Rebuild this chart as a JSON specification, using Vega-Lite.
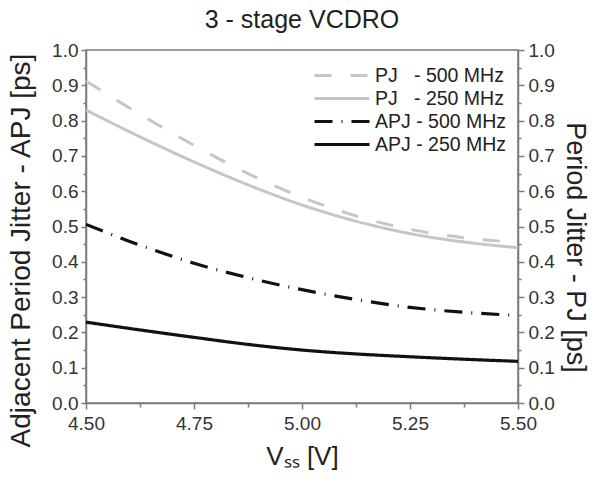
{
  "$schema": "https://vega.github.io/schema/vega-lite/v6.json",
  "width": 432,
  "height": 353,
  "autosize": "none",
  "padding": {"left": 86, "top": 50, "right": 79, "bottom": 81},
  "background": "white",
  "config": {
    "font": "Liberation Sans",
    "view": {"stroke": "#7a7a7a", "strokeWidth": 1.5},
    "axis": {"grid": false}
  },
  "title": {
    "text": "3 - stage VCDRO",
    "fontSize": 25,
    "fontWeight": "normal",
    "color": "#222222",
    "anchor": "middle",
    "frame": "group",
    "offset": 8
  },
  "data": {
    "values": [
      {"vss": 4.5, "jitter": 0.912, "series": "PJ\u00a0\u00a0\u00a0- 500 MHz"},
      {"vss": 4.625, "jitter": 0.818, "series": "PJ\u00a0\u00a0\u00a0- 500 MHz"},
      {"vss": 4.75, "jitter": 0.73, "series": "PJ\u00a0\u00a0\u00a0- 500 MHz"},
      {"vss": 4.875, "jitter": 0.65, "series": "PJ\u00a0\u00a0\u00a0- 500 MHz"},
      {"vss": 5.0, "jitter": 0.583, "series": "PJ\u00a0\u00a0\u00a0- 500 MHz"},
      {"vss": 5.125, "jitter": 0.53, "series": "PJ\u00a0\u00a0\u00a0- 500 MHz"},
      {"vss": 5.25, "jitter": 0.492, "series": "PJ\u00a0\u00a0\u00a0- 500 MHz"},
      {"vss": 5.375, "jitter": 0.468, "series": "PJ\u00a0\u00a0\u00a0- 500 MHz"},
      {"vss": 5.5, "jitter": 0.455, "series": "PJ\u00a0\u00a0\u00a0- 500 MHz"},
      {"vss": 4.5, "jitter": 0.83, "series": "PJ\u00a0\u00a0\u00a0- 250 MHz"},
      {"vss": 4.625, "jitter": 0.754, "series": "PJ\u00a0\u00a0\u00a0- 250 MHz"},
      {"vss": 4.75, "jitter": 0.683, "series": "PJ\u00a0\u00a0\u00a0- 250 MHz"},
      {"vss": 4.875, "jitter": 0.618, "series": "PJ\u00a0\u00a0\u00a0- 250 MHz"},
      {"vss": 5.0, "jitter": 0.561, "series": "PJ\u00a0\u00a0\u00a0- 250 MHz"},
      {"vss": 5.125, "jitter": 0.515, "series": "PJ\u00a0\u00a0\u00a0- 250 MHz"},
      {"vss": 5.25, "jitter": 0.48, "series": "PJ\u00a0\u00a0\u00a0- 250 MHz"},
      {"vss": 5.375, "jitter": 0.456, "series": "PJ\u00a0\u00a0\u00a0- 250 MHz"},
      {"vss": 5.5, "jitter": 0.44, "series": "PJ\u00a0\u00a0\u00a0- 250 MHz"},
      {"vss": 4.5, "jitter": 0.506, "series": "APJ - 500 MHz"},
      {"vss": 4.625, "jitter": 0.447, "series": "APJ - 500 MHz"},
      {"vss": 4.75, "jitter": 0.396, "series": "APJ - 500 MHz"},
      {"vss": 4.875, "jitter": 0.355, "series": "APJ - 500 MHz"},
      {"vss": 5.0, "jitter": 0.321, "series": "APJ - 500 MHz"},
      {"vss": 5.125, "jitter": 0.293, "series": "APJ - 500 MHz"},
      {"vss": 5.25, "jitter": 0.271, "series": "APJ - 500 MHz"},
      {"vss": 5.375, "jitter": 0.257, "series": "APJ - 500 MHz"},
      {"vss": 5.5, "jitter": 0.248, "series": "APJ - 500 MHz"},
      {"vss": 4.5, "jitter": 0.229, "series": "APJ - 250 MHz"},
      {"vss": 4.625, "jitter": 0.207, "series": "APJ - 250 MHz"},
      {"vss": 4.75, "jitter": 0.186, "series": "APJ - 250 MHz"},
      {"vss": 4.875, "jitter": 0.166, "series": "APJ - 250 MHz"},
      {"vss": 5.0, "jitter": 0.15, "series": "APJ - 250 MHz"},
      {"vss": 5.125, "jitter": 0.139, "series": "APJ - 250 MHz"},
      {"vss": 5.25, "jitter": 0.131, "series": "APJ - 250 MHz"},
      {"vss": 5.375, "jitter": 0.124, "series": "APJ - 250 MHz"},
      {"vss": 5.5, "jitter": 0.118, "series": "APJ - 250 MHz"}
    ]
  },
  "encoding": {
    "x": {
      "field": "vss",
      "type": "quantitative",
      "scale": {"domain": [4.5, 5.5], "nice": false, "zero": false},
      "axis": {
        "title": "V\u209b\u209b [V]",
        "titleFontSize": 26,
        "titleFontWeight": "normal",
        "titleColor": "#222222",
        "titlePadding": 10,
        "values": [4.5, 4.625, 4.75, 4.875, 5.0, 5.125, 5.25, 5.375, 5.5],
        "labelExpr": "abs(round(datum.value*4)-datum.value*4) < 0.001 ? format(datum.value, '.2f') : ''",
        "labelFontSize": 19,
        "labelColor": "#333333",
        "labelPadding": 5,
        "labelFlush": false,
        "domainColor": "#7a7a7a",
        "domainWidth": 1.5,
        "tickColor": "#7a7a7a",
        "tickWidth": 1.5,
        "tickSize": {"condition": {"test": "abs(round(datum.value*4)-datum.value*4) < 0.001", "value": 6}, "value": 4}
      }
    },
    "color": {
      "field": "series",
      "type": "nominal",
      "scale": {
        "domain": ["PJ\u00a0\u00a0\u00a0- 500 MHz", "PJ\u00a0\u00a0\u00a0- 250 MHz", "APJ - 500 MHz", "APJ - 250 MHz"],
        "range": ["#c9c5c3", "#c9c5c3", "#111111", "#111111"]
      },
      "legend": {
        "title": null,
        "orient": "none",
        "legendX": 227,
        "legendY": 14,
        "padding": 0,
        "symbolType": "stroke",
        "symbolSize": 3025,
        "symbolStrokeWidth": 3,
        "labelFontSize": 19.5,
        "labelColor": "#222222",
        "labelOffset": 4,
        "clipHeight": 23,
        "rowPadding": 0
      }
    },
    "strokeDash": {
      "field": "series",
      "type": "nominal",
      "scale": {
        "domain": ["PJ\u00a0\u00a0\u00a0- 500 MHz", "PJ\u00a0\u00a0\u00a0- 250 MHz", "APJ - 500 MHz", "APJ - 250 MHz"],
        "range": [[17, 19], [1, 0], [18, 9, 1, 9], [1, 0]]
      },
      "legend": {
        "title": null,
        "orient": "none",
        "legendX": 227,
        "legendY": 14,
        "padding": 0,
        "symbolType": "stroke",
        "symbolSize": 3025,
        "symbolStrokeWidth": 3,
        "labelFontSize": 19.5,
        "labelColor": "#222222",
        "labelOffset": 4,
        "clipHeight": 23,
        "rowPadding": 0
      }
    }
  },
  "layer": [
    {
      "transform": [{"filter": "indexof(datum.series, 'APJ') === 0"}],
      "mark": {"type": "line", "strokeWidth": 3.2, "interpolate": "monotone"},
      "encoding": {
        "y": {
          "field": "jitter",
          "type": "quantitative",
          "scale": {"domain": [0, 1], "nice": false},
          "axis": {
            "orient": "left",
            "title": "Adjacent Period Jitter - APJ [ps]",
            "titleFontSize": 28,
            "titleFontWeight": "normal",
            "titleColor": "#222222",
            "titlePadding": 16,
            "titleY": 200,
            "values": [0, 0.05, 0.1, 0.15, 0.2, 0.25, 0.3, 0.35, 0.4, 0.45, 0.5, 0.55, 0.6, 0.65, 0.7, 0.75, 0.8, 0.85, 0.9, 0.95, 1.0],
            "labelExpr": "abs(round(datum.value*10)-datum.value*10) < 0.001 ? format(datum.value, '.1f') : ''",
            "labelFontSize": 19,
            "labelColor": "#333333",
            "labelPadding": 3,
            "domainColor": "#7a7a7a",
            "domainWidth": 1.5,
            "tickColor": "#7a7a7a",
            "tickWidth": 1.5,
            "tickSize": {"condition": {"test": "abs(round(datum.value*10)-datum.value*10) < 0.001", "value": 5}, "value": 3}
          }
        }
      }
    },
    {
      "transform": [{"filter": "indexof(datum.series, 'PJ') === 0"}],
      "mark": {"type": "line", "strokeWidth": 3, "interpolate": "monotone"},
      "encoding": {
        "y": {
          "field": "jitter",
          "type": "quantitative",
          "scale": {"domain": [0, 1], "nice": false},
          "axis": {
            "orient": "right",
            "title": "Period Jitter - PJ [ps]",
            "titleFontSize": 27,
            "titleFontWeight": "normal",
            "titleColor": "#222222",
            "titlePadding": 6,
            "titleY": 197,
            "values": [0, 0.05, 0.1, 0.15, 0.2, 0.25, 0.3, 0.35, 0.4, 0.45, 0.5, 0.55, 0.6, 0.65, 0.7, 0.75, 0.8, 0.85, 0.9, 0.95, 1.0],
            "labelExpr": "abs(round(datum.value*10)-datum.value*10) < 0.001 ? format(datum.value, '.1f') : ''",
            "labelFontSize": 19,
            "labelColor": "#333333",
            "labelPadding": 4,
            "domainColor": "#7a7a7a",
            "domainWidth": 1.5,
            "tickColor": "#7a7a7a",
            "tickWidth": 1.5,
            "tickSize": {"condition": {"test": "abs(round(datum.value*10)-datum.value*10) < 0.001", "value": 6}, "value": 3}
          }
        }
      }
    }
  ],
  "resolve": {"scale": {"y": "independent"}, "axis": {"y": "independent"}}
}
